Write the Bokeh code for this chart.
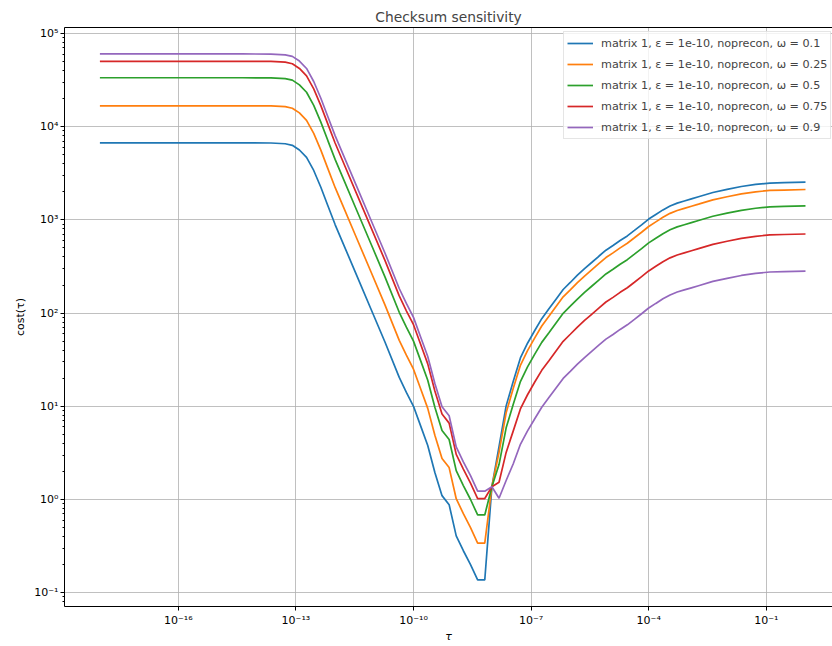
from bokeh.plotting import figure
from bokeh.models import (FixedTicker, CustomJSTickFormatter, Legend, LegendItem, Range1d, LogAxis)
from bokeh.embed import file_html
from bokeh.resources import INLINE

# ---- data ----
tau = [1e-18, 6.58e-17, 4.33e-15, 2.31e-14, 5.34e-14, 8.11e-14, 1.23e-13, 1.87e-13,
       2.85e-13, 4.33e-13, 6.58e-13, 1.0e-12, 1.52e-12, 3.51e-12, 8.11e-12, 1.87e-11,
       4.33e-11, 6.58e-11, 1.0e-10, 1.52e-10, 2.31e-10, 3.51e-10, 5.34e-10, 8.11e-10,
       1.23e-9, 1.87e-9, 2.85e-9, 4.33e-9, 6.58e-9, 1.0e-8, 1.52e-8, 2.31e-8, 3.51e-8,
       5.34e-8, 8.11e-8, 1.23e-7, 1.87e-7, 2.85e-7, 4.33e-7, 6.58e-7, 1.0e-6, 1.52e-6,
       2.31e-6, 3.51e-6, 5.34e-6, 8.11e-6, 1.23e-5, 1.87e-5, 2.85e-5, 4.33e-5, 6.58e-5,
       1.0e-4, 1.52e-4, 2.31e-4, 3.51e-4, 5.34e-4, 8.11e-4, 1.23e-3, 1.87e-3, 4.33e-3,
       1.0e-2, 2.31e-2, 5.34e-2, 1.23e-1, 2.85e-1, 1.0]

cost_w010 = [6700, 6700, 6700, 6680, 6560, 6310, 5620, 4680, 3390, 2240, 1410, 891, 589,
             257, 112, 49.0, 20.4, 14.1, 10.0, 6.17, 3.80, 1.95, 1.10, 0.88, 0.407, 0.282,
             0.200, 0.137, 0.137, 1.37, 3.70, 10.1, 18.6, 33.0, 47.5, 64.6, 87.1, 111, 141,
             179, 213, 255, 300, 349, 407, 473, 531, 601, 673, 771, 885, 1020, 1143, 1280,
             1409, 1514, 1595, 1680, 1770, 1967, 2125, 2280, 2399, 2483, 2507, 2540]

cost_w025 = [16750, 16750, 16750, 16700, 16400, 15780, 14050, 11700, 8475, 5600, 3525, 2228,
             1473, 643, 281, 122.5, 51.0, 35.3, 25.0, 15.4, 9.50, 4.88, 2.75, 2.20, 1.02,
             0.705, 0.500, 0.341, 0.341, 1.37, 3.20, 8.53, 15.6, 27.5, 39.6, 53.9, 72.6,
             92.3, 117.8, 149.3, 177.8, 212.3, 249.8, 291, 339, 394.5, 442.5, 501, 561,
             642.8, 737.3, 849.8, 952.5, 1066.5, 1174.5, 1261.5, 1329, 1400, 1475, 1640,
             1771, 1900, 2000, 2069, 2090, 2117]

cost_w050 = [33500, 33500, 33500, 33400, 32800, 31550, 28100, 23400, 16950, 11200, 7050, 4455,
             2945, 1285, 561, 245, 102, 70.5, 50.0, 30.9, 19.0, 9.75, 5.50, 4.40, 2.04, 1.41,
             1.00, 0.683, 0.683, 1.37, 2.37, 5.87, 10.5, 18.4, 26.5, 36.0, 48.5, 61.5, 78.5,
             99.5, 118.5, 141.5, 166.5, 194, 226, 263, 295, 334, 374, 428.5, 491.5, 566.5,
             635, 711, 783, 841, 886, 933.5, 983.5, 1093, 1180.5, 1266.5, 1333, 1379.5,
             1393, 1411]

cost_w075 = [50250, 50250, 50250, 50100, 49200, 47330, 42150, 35100, 25430, 16800, 10580,
             6683, 4418, 1928, 841.5, 367.5, 153, 105.8, 75.0, 46.3, 28.5, 14.6, 8.25, 6.60,
             3.05, 2.12, 1.50, 1.024, 1.024, 1.37, 1.53, 3.20, 5.45, 9.36, 13.3, 18.1, 24.3,
             30.8, 39.3, 49.8, 59.3, 70.8, 83.3, 97.0, 113, 131.5, 147.5, 167, 187, 214.3,
             245.8, 283.3, 317.5, 355.5, 391.5, 420.5, 443, 466.8, 491.8, 546.5, 590.3,
             633.3, 666.5, 689.8, 696.5, 705.5]

cost_w090 = [60300, 60300, 60300, 60120, 59040, 56790, 50580, 42120, 30510, 20160, 12690,
             8019, 5301, 2313, 1010, 441, 183.6, 126.9, 90.0, 55.5, 34.2, 17.6, 9.90, 7.92,
             3.66, 2.54, 1.80, 1.229, 1.229, 1.37, 1.03, 1.60, 2.42, 3.91, 5.45, 7.31, 9.77,
             12.4, 15.7, 19.9, 23.7, 28.3, 33.3, 38.8, 45.2, 52.6, 59.0, 66.8, 74.8, 85.7,
             98.3, 113.3, 127, 142.2, 156.6, 168.2, 177.2, 186.7, 196.7, 218.6, 236.1,
             253.3, 266.6, 275.9, 278.6, 282.2]

series = [cost_w010, cost_w025, cost_w050, cost_w075, cost_w090]
labels = ["matrix 1, \u03b5 = 1e-10, noprecon, \u03c9 = 0.1",
          "matrix 1, \u03b5 = 1e-10, noprecon, \u03c9 = 0.25",
          "matrix 1, \u03b5 = 1e-10, noprecon, \u03c9 = 0.5",
          "matrix 1, \u03b5 = 1e-10, noprecon, \u03c9 = 0.75",
          "matrix 1, \u03b5 = 1e-10, noprecon, \u03c9 = 0.9"]
colors = ["#1f77b4", "#ff7f0e", "#2ca02c", "#d62728", "#9467bd"]

x_major = [1e-16, 1e-13, 1e-10, 1e-7, 1e-4, 1e-1]
y_major = [1e-1, 1e0, 1e1, 1e2, 1e3, 1e4, 1e5]
y_minor = [m * 10.0 ** e for e in range(-2, 5) for m in range(2, 10)]

FONT = "DejaVu Sans"

p = figure(width=832, height=646, x_axis_type="log", y_axis_type="log",
           x_range=Range1d(10 ** -18.903, 10 ** 0.689),
           y_range=Range1d(10 ** -1.148, 10 ** 5.064),
           output_backend="svg", toolbar_location=None,
           title="Checksum sensitivity",
           min_border_left=64, min_border_right=0, min_border_top=27, min_border_bottom=40)

p.background_fill_color = "white"
p.border_fill_color = "white"
p.outline_line_color = None

p.title.align = "center"
p.title.offset = 4
p.title.text_font = FONT
p.title.text_font_size = "13.8px"
p.title.text_font_style = "normal"
p.title.standoff = 5

sup_js = """
const sup = {'0':'\u2070','1':'\u00b9','2':'\u00b2','3':'\u00b3','4':'\u2074','5':'\u2075',
             '6':'\u2076','7':'\u2077','8':'\u2078','9':'\u2079','-':'\u207b'};
const e = Math.round(Math.log10(tick));
return '10' + String(e).split('').map(c => sup[c]).join('');
"""

p.xaxis.ticker = FixedTicker(ticks=x_major, minor_ticks=[])
p.yaxis.ticker = FixedTicker(ticks=y_major, minor_ticks=y_minor)
p.xaxis.formatter = CustomJSTickFormatter(code=sup_js)
p.yaxis.formatter = CustomJSTickFormatter(code=sup_js)

for ax in (p.xaxis[0], p.yaxis[0]):
    ax.axis_line_color = "black"
    ax.major_tick_line_color = "black"
    ax.minor_tick_line_color = "black"
    ax.major_tick_out = 4
    ax.major_tick_in = 0
    ax.minor_tick_out = 2
    ax.minor_tick_in = 0
    ax.major_label_text_font = FONT
    ax.major_label_text_font_size = "11px"
    ax.major_label_text_color = "black"
    ax.major_label_standoff = 3
    ax.axis_label_text_font = FONT
    ax.axis_label_text_font_size = "11px"
    ax.axis_label_text_font_style = "normal"
    ax.axis_label_text_color = "black"

p.xaxis.axis_label = "\u03c4"
p.xaxis.axis_label_text_font_style = "italic"
p.xaxis.axis_label_standoff = 0
p.yaxis.axis_label = "cost(\u03c4)"
p.yaxis.axis_label_standoff = 4
p.yaxis.major_label_standoff = 2

# top spine
top = LogAxis(ticker=FixedTicker(ticks=[], minor_ticks=[]), axis_line_color="black",
              major_tick_line_color=None, minor_tick_line_color=None,
              major_label_text_font_size="0px", major_tick_out=0, major_label_standoff=0)
p.add_layout(top, "above")

p.xgrid.ticker = FixedTicker(ticks=x_major, minor_ticks=[])
p.ygrid.ticker = FixedTicker(ticks=y_major, minor_ticks=[])
for g in (p.xgrid[0], p.ygrid[0]):
    g.grid_line_color = "#b0b0b0"
    g.grid_line_width = 0.8

items = []
for ys, lab, col in zip(series, labels, colors):
    r = p.line(tau, ys, line_color=col, line_width=1.7)
    items.append(LegendItem(label=lab, renderers=[r]))

legend = Legend(items=items, location=(499, 467))
legend.label_text_font = FONT
legend.label_text_font_size = "11.2px"
legend.glyph_width = 26
legend.glyph_height = 16
legend.label_height = 16
legend.label_standoff = 8
legend.spacing = 5
legend.padding = 3
legend.margin = 0
legend.border_line_color = "#cccccc"
legend.border_line_width = 1
legend.background_fill_alpha = 0.8
p.add_layout(legend)

open("out.html", "w").write(file_html(p, INLINE))
